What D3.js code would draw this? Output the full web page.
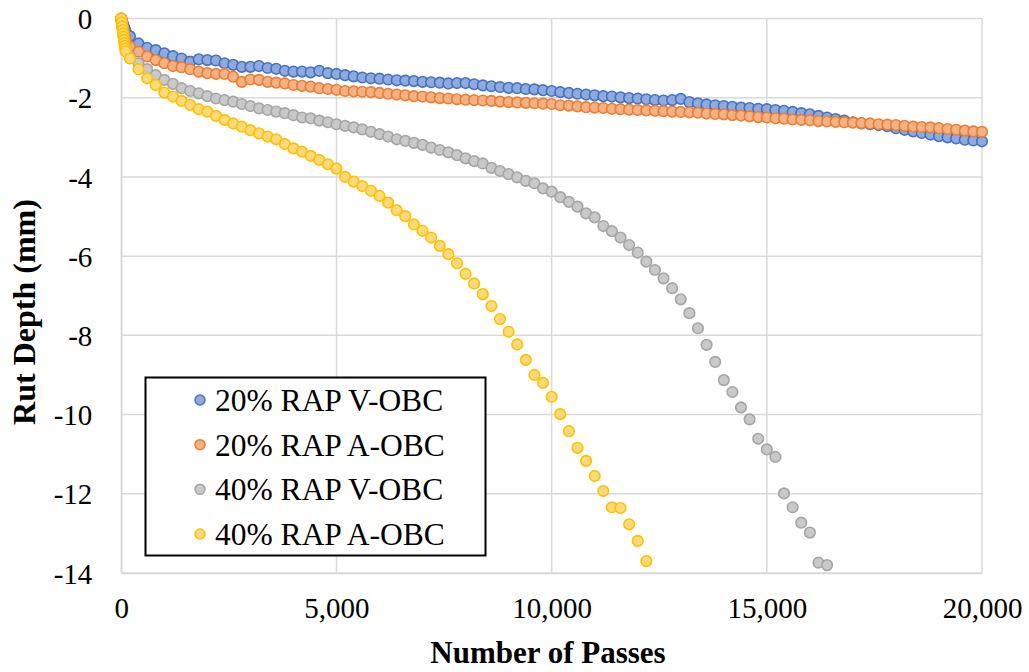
<!DOCTYPE html>
<html>
<head>
<meta charset="utf-8">
<script src="https://cdn.jsdelivr.net/npm/d3@7"></script>
<style>
  html, body { margin: 0; padding: 0; background: #fff; }
  svg { display: block; }
</style>
</head>
<body>
<svg id="chart" width="1029" height="672"></svg>
<script>
// ---------------- DATA ----------------
const passes = [0, 10, 20, 30, 40, 50, 60, 70, 80, 90, 100,
  200, 400, 600, 800, 1000, 1200, 1400, 1600, 1800, 2000,
  2200, 2400, 2600, 2800, 3000, 3200, 3400, 3600, 3800, 4000,
  4200, 4400, 4600, 4800, 5000, 5200, 5400, 5600, 5800, 6000,
  6200, 6400, 6600, 6800, 7000, 7200, 7400, 7600, 7800, 8000,
  8200, 8400, 8600, 8800, 9000, 9200, 9400, 9600, 9800, 10000,
  10200, 10400, 10600, 10800, 11000, 11200, 11400, 11600, 11800, 12000,
  12200, 12400, 12600, 12800, 13000, 13200, 13400, 13600, 13800, 14000,
  14200, 14400, 14600, 14800, 15000, 15200, 15400, 15600, 15800, 16000,
  16200, 16400, 16600, 16800, 17000, 17200, 17400, 17600, 17800, 18000,
  18200, 18400, 18600, 18800, 19000, 19200, 19400, 19600, 19800, 20000];

const seriesNames = ["20% RAP V-OBC", "20% RAP A-OBC", "40% RAP V-OBC", "40% RAP A-OBC"];

const rap20V = [0, -0.04, -0.08, -0.12, -0.16, -0.19, -0.22, -0.25, -0.28, -0.31, -0.34,
  -0.45, -0.63, -0.74, -0.80, -0.88, -0.95, -1.01, -1.09, -1.03, -1.05,
  -1.06, -1.13, -1.17, -1.22, -1.22, -1.20, -1.25, -1.27, -1.32, -1.34,
  -1.34, -1.36, -1.32, -1.38, -1.40, -1.43, -1.46, -1.49, -1.51, -1.52,
  -1.54, -1.56, -1.57, -1.58, -1.60, -1.61, -1.62, -1.64, -1.63, -1.63,
  -1.66, -1.69, -1.71, -1.73, -1.75, -1.76, -1.78, -1.79, -1.81, -1.83,
  -1.86, -1.88, -1.90, -1.92, -1.94, -1.96, -1.97, -1.99, -2.01, -2.02,
  -2.04, -2.06, -2.07, -2.06, -2.03, -2.11, -2.14, -2.17, -2.19, -2.21,
  -2.23, -2.25, -2.26, -2.28, -2.29, -2.31, -2.33, -2.36, -2.39, -2.42,
  -2.46, -2.50, -2.54, -2.58, -2.62, -2.65, -2.67, -2.69, -2.72, -2.77,
  -2.81, -2.85, -2.89, -2.93, -2.97, -3.00, -3.03, -3.06, -3.08, -3.10];

const rap20A = [0, -0.07, -0.13, -0.19, -0.25, -0.31, -0.36, -0.41, -0.46, -0.51, -0.56,
  -0.71, -0.84, -0.96, -1.05, -1.13, -1.20, -1.23, -1.28, -1.34, -1.38,
  -1.40, -1.40, -1.47, -1.60, -1.54, -1.55, -1.60, -1.62, -1.64, -1.68,
  -1.70, -1.72, -1.76, -1.78, -1.80, -1.83, -1.84, -1.85, -1.86, -1.88,
  -1.90, -1.92, -1.94, -1.96, -1.97, -1.99, -2.01, -2.02, -2.04, -2.05,
  -2.06, -2.07, -2.08, -2.10, -2.11, -2.12, -2.13, -2.14, -2.15, -2.16,
  -2.19, -2.20, -2.22, -2.24, -2.25, -2.26, -2.28, -2.29, -2.30, -2.31,
  -2.32, -2.33, -2.34, -2.35, -2.36, -2.37, -2.38, -2.40, -2.41, -2.42,
  -2.44, -2.45, -2.47, -2.49, -2.50, -2.52, -2.53, -2.55, -2.56, -2.57,
  -2.59, -2.60, -2.61, -2.62, -2.63, -2.64, -2.65, -2.67, -2.68, -2.69,
  -2.71, -2.73, -2.74, -2.75, -2.77, -2.79, -2.81, -2.83, -2.85, -2.86];

const rap40V = [0, -0.09, -0.17, -0.25, -0.33, -0.40, -0.47, -0.54, -0.60, -0.66, -0.72,
  -0.95, -1.13, -1.28, -1.43, -1.55, -1.65, -1.76, -1.83, -1.89, -1.96,
  -2.02, -2.06, -2.10, -2.16, -2.21, -2.27, -2.31, -2.35, -2.39, -2.44,
  -2.50, -2.52, -2.58, -2.62, -2.67, -2.71, -2.75, -2.80, -2.86, -2.92,
  -2.98, -3.05, -3.09, -3.14, -3.19, -3.26, -3.32, -3.38, -3.45, -3.53,
  -3.60, -3.66, -3.77, -3.85, -3.93, -4.01, -4.10, -4.16, -4.29, -4.37,
  -4.51, -4.63, -4.75, -4.92, -5.02, -5.24, -5.37, -5.53, -5.72, -5.91,
  -6.14, -6.35, -6.56, -6.81, -7.09, -7.44, -7.82, -8.24, -8.67, -9.13,
  -9.43, -9.82, -10.12, -10.61, -10.88, -11.07, -11.99, -12.34, -12.73, -12.98,
  -13.74, -13.80];

const rap40A = [0, -0.10, -0.20, -0.29, -0.38, -0.46, -0.54, -0.62, -0.69, -0.76, -0.83,
  -1.01, -1.28, -1.51, -1.68, -1.87, -1.97, -2.08, -2.18, -2.29, -2.35,
  -2.46, -2.56, -2.65, -2.73, -2.82, -2.90, -2.98, -3.05, -3.17, -3.28,
  -3.36, -3.47, -3.57, -3.68, -3.79, -4.00, -4.12, -4.23, -4.35, -4.48,
  -4.65, -4.84, -4.99, -5.20, -5.36, -5.53, -5.74, -5.95, -6.18, -6.45,
  -6.69, -6.96, -7.26, -7.59, -7.91, -8.23, -8.62, -9.00, -9.20, -9.55,
  -9.99, -10.42, -10.84, -11.17, -11.55, -11.93, -12.34, -12.36, -12.77, -13.19,
  -13.70];

const xTicks = [0, 5000, 10000, 15000, 20000];
const yTicks = [0, -2, -4, -6, -8, -10, -12, -14];
const xTitle = "Number of Passes";
const yTitle = "Rut Depth (mm)";

// ---------------- STYLE ----------------
const fills   = ["#8FAADC", "#F4B183", "#C9C9C9", "#FFD97A"];
const strokes = ["#4472C4", "#ED7D31", "#A5A5A5", "#FFC000"];
const gridColor = "#D9D9D9";
const serif = "Liberation Serif";

// ---------------- CHART ----------------
const svg = d3.select("#chart");
const pL = 121.3, pR = 982, pT = 18.5, pB = 573;

const x = d3.scaleLinear().domain([0, 20000]).range([pL, pR]);
const y = d3.scaleLinear().domain([0, -14]).range([pT, pB]);

// gridlines
const grid = svg.append("g");
grid.selectAll("line.h").data(yTicks).join("line")
  .attr("x1", pL).attr("x2", pR)
  .attr("y1", d => y(d)).attr("y2", d => y(d))
  .attr("stroke", gridColor).attr("stroke-width", 1.5);
grid.selectAll("line.v").data(xTicks).join("line")
  .attr("x1", d => x(d)).attr("x2", d => x(d))
  .attr("y1", pT).attr("y2", pB)
  .attr("stroke", gridColor).attr("stroke-width", 1.5);

// axes (labels only)
const xAxis = d3.axisBottom(x).tickValues(xTicks).tickSize(0).tickPadding(0)
  .tickFormat(d3.format(","));
const gx = svg.append("g").attr("transform", `translate(0,${pB})`).call(xAxis);
gx.attr("font-family", serif).attr("font-size", 29);
gx.select(".domain").attr("stroke", gridColor).attr("stroke-width", 1.5);
gx.selectAll("text").style("font-family", serif).style("font-size", "29px")
  .attr("fill", "#000").attr("dy", 0).attr("y", 45);

const yAxis = d3.axisLeft(y).tickValues(yTicks).tickSize(0).tickPadding(0)
  .tickFormat(d => String(d));
const gy = svg.append("g").attr("transform", `translate(${pL},0)`).call(yAxis);
gy.attr("font-family", serif).attr("font-size", 29);
gy.select(".domain").attr("stroke", gridColor).attr("stroke-width", 1.5);
gy.selectAll("text").style("font-family", serif).style("font-size", "29px")
  .attr("fill", "#000").attr("x", -29).attr("dy", "0.35em");

// axis titles
svg.append("text").attr("x", 548).attr("y", 663)
  .attr("text-anchor", "middle")
  .style("font-family", serif).style("font-size", "31px").style("font-weight", "bold")
  .text(xTitle);
svg.append("text").attr("transform", "translate(35,312) rotate(-90)")
  .attr("text-anchor", "middle")
  .style("font-family", serif).style("font-size", "32px").style("font-weight", "bold")
  .text(yTitle);

// data points
const allSeries = [rap20V, rap20A, rap40V, rap40A];
allSeries.forEach((vals, i) => {
  const pts = vals.map((v, j) => ({ p: passes[j], v }));
  svg.append("g").selectAll("circle").data(pts).join("circle")
    .attr("cx", d => x(d.p)).attr("cy", d => y(d.v)).attr("r", 5.3)
    .attr("fill", fills[i]).attr("stroke", strokes[i]).attr("stroke-width", 1.6);
});

// legend
const lg = svg.append("g");
lg.append("rect").attr("x", 145.5).attr("y", 377.5).attr("width", 340).attr("height", 178)
  .attr("fill", "#fff").attr("stroke", "#000").attr("stroke-width", 2);
const ly = d3.scalePoint().domain(seriesNames).range([400, 534]);
seriesNames.forEach((name, i) => {
  lg.append("circle").attr("cx", 200).attr("cy", ly(name)).attr("r", 5)
    .attr("fill", fills[i]).attr("stroke", strokes[i]).attr("stroke-width", 1.5);
  lg.append("text").attr("x", 215).attr("y", ly(name)).attr("dy", "0.35em")
    .style("font-family", serif).style("font-size", "31.5px").text(name);
});
</script>
</body>
</html>
